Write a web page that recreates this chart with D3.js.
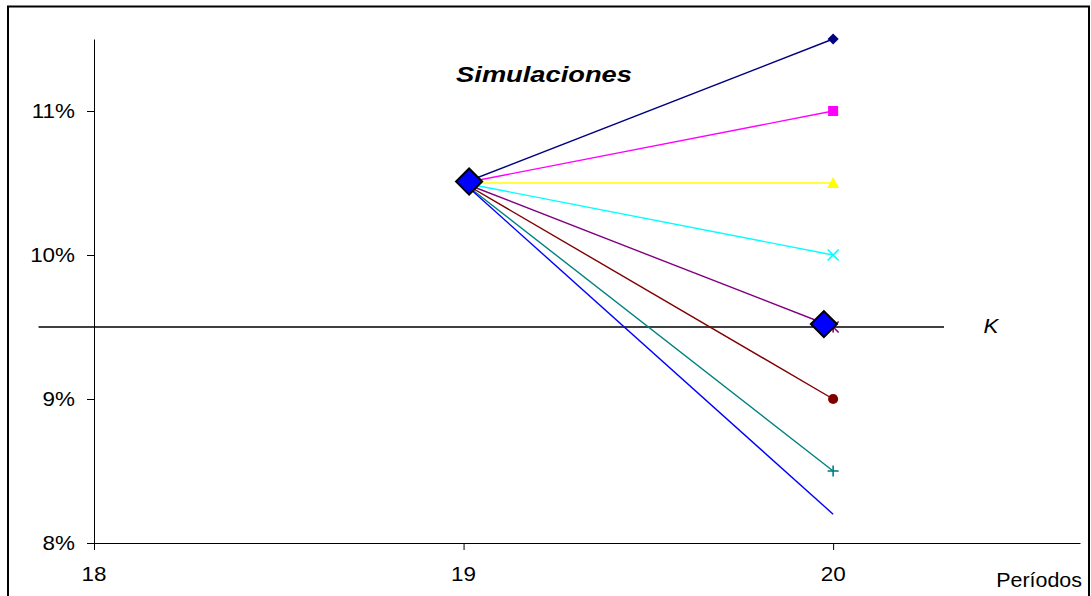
<!DOCTYPE html>
<html>
<head>
<meta charset="utf-8">
<script src="https://cdn.jsdelivr.net/npm/d3@7/dist/d3.min.js"></script>
<style>
  html, body { margin: 0; padding: 0; background: #fff; }
  svg { display: block; font-family: "Liberation Sans", Arial, sans-serif; }
</style>
</head>
<body>
<svg id="chart" width="1091" height="596"></svg>
<script>
// Periods on the horizontal axis
const periods = [18, 19, 20];
// Rate tick labels (percent)
const rateTicks = [8, 9, 10, 11];
// Simulated rate paths: every path starts at period 19 and ends at period 20
const startPeriod = 19;
const startRate = 10.5;
const endPeriod = 20;
const simEndRates = [11.5, 11.0, 10.5, 10.0, 9.5, 9.0, 8.5, 8.2];
const simColors = ["#000080", "#FF00FF", "#FFFF00", "#00FFFF", "#800080", "#800000", "#008080", "#0000FF"];
const simMarkers = ["diamond", "square", "triangle", "x", "star", "circle", "plus", "none"];
// Strike level K
const strikeRate = 9.5;
const strikeSpan = [17.85, 20.3];
// Highlighted points (start and exercise)
const highlightX = [19.015, 19.975];
const highlightY = [10.51, 9.52];

const svg = d3.select("#chart");

// Outer frame
svg.append("rect")
  .attr("x", 8).attr("y", 6.5)
  .attr("width", 1081).attr("height", 620)
  .attr("fill", "none").attr("stroke", "#000").attr("stroke-width", 2);

const x = d3.scaleLinear().domain([18, 20.668]).range([94, 1080]);
const y = d3.scaleLinear().domain([8, 11.5]).range([543, 39]);

// Helper: text stretched horizontally about its anchor point
function label(g, txt, px, py, size, anchor, opts = {}) {
  const sx = opts.sx || 1.15;
  const t = g.append("text")
    .attr("transform", `translate(${px},${py}) scale(${sx},1)`)
    .attr("text-anchor", anchor)
    .attr("font-size", size)
    .attr("fill", "#000")
    .text(txt);
  if (opts.weight) t.attr("font-weight", opts.weight);
  if (opts.style) t.attr("font-style", opts.style);
  return t;
}

// Y axis
const yAxis = svg.append("g")
  .attr("transform", `translate(${x(18)},0)`)
  .call(d3.axisLeft(y).tickValues(rateTicks).tickSizeInner(7).tickSizeOuter(0).tickFormat(""));
yAxis.select(".domain").attr("stroke", "#000").attr("stroke-width", 1);
yAxis.selectAll(".tick line").attr("stroke", "#000");
rateTicks.forEach(v => label(svg, v + "%", 75, y(v) + 7, 19.5, "end"));

// X axis
const xAxis = svg.append("g")
  .attr("transform", `translate(0,${y(8)})`)
  .call(d3.axisBottom(x).tickValues(periods).tickSizeInner(7).tickSizeOuter(0).tickFormat(""));
xAxis.select(".domain").attr("stroke", "#000").attr("stroke-width", 1.2);
xAxis.selectAll(".tick line").attr("stroke", "#000");
periods.forEach(v => label(svg, String(v), x(v), 581, 19.5, "middle"));
label(svg, "Períodos", 1082, 587, 19.5, "end", { sx: 1.1 });

// Strike line
svg.append("line")
  .attr("x1", x(strikeSpan[0])).attr("x2", x(strikeSpan[1]))
  .attr("y1", y(strikeRate)).attr("y2", y(strikeRate))
  .attr("stroke", "#000").attr("stroke-width", 1.4);
label(svg, "K", 991, 333, 19.5, "middle", { style: "italic" });

// Title
label(svg, "Simulaciones", 544, 82, 22, "middle", { weight: "bold", style: "italic", sx: 1.24 });

// Simulation paths
const paths = svg.append("g");
simEndRates.forEach((r, i) => {
  paths.append("line")
    .attr("x1", x(startPeriod)).attr("y1", y(startRate))
    .attr("x2", x(endPeriod)).attr("y2", y(r))
    .attr("stroke", simColors[i]).attr("stroke-width", 1.4);
});

// Markers at the end of each path
simEndRates.forEach((r, i) => {
  const m = simMarkers[i];
  const cx = x(endPeriod), cy = y(r), c = simColors[i];
  if (m === "none") return;
  const g = svg.append("g").attr("transform", `translate(${cx},${cy})`);
  if (m === "diamond") {
    g.append("path").attr("transform", "rotate(45)")
      .attr("d", d3.symbol(d3.symbolSquare, 62)()).attr("fill", c);
  } else if (m === "square") {
    g.append("path").attr("d", d3.symbol(d3.symbolSquare, 100)()).attr("fill", c);
  } else if (m === "triangle") {
    g.append("path").attr("d", "M0,-6L6,5L-6,5Z").attr("fill", c);
  } else if (m === "circle") {
    g.append("path").attr("d", d3.symbol(d3.symbolCircle, 80)()).attr("fill", c);
  } else {
    const h = 5.5;
    g.attr("stroke", c).attr("stroke-width", 1.6).attr("fill", "none");
    if (m === "x" || m === "star") {
      g.append("line").attr("x1", -h).attr("y1", -h).attr("x2", h).attr("y2", h);
      g.append("line").attr("x1", -h).attr("y1", h).attr("x2", h).attr("y2", -h);
    }
    if (m === "star") {
      g.append("line").attr("x1", 0).attr("y1", -h).attr("x2", 0).attr("y2", h);
    }
    if (m === "plus") {
      g.append("line").attr("x1", -h).attr("y1", 0).attr("x2", h).attr("y2", 0);
      g.append("line").attr("x1", 0).attr("y1", -h).attr("x2", 0).attr("y2", h);
    }
  }
});

// Highlighted diamonds
highlightX.forEach((hx, i) => {
  svg.append("path")
    .attr("transform", `translate(${x(hx)},${y(highlightY[i])}) rotate(45)`)
    .attr("d", d3.symbol(d3.symbolSquare, 340)())
    .attr("fill", "#0000FF").attr("stroke", "#000").attr("stroke-width", 2);
});
</script>
</body>
</html>
